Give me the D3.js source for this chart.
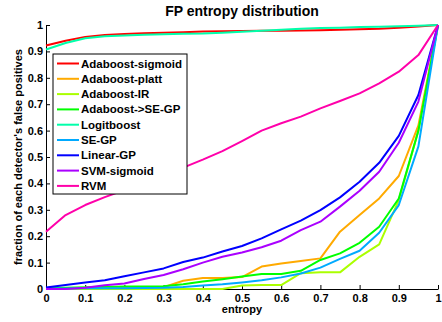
<!DOCTYPE html>
<html>
<head>
<meta charset="utf-8">
<script src="https://cdn.jsdelivr.net/npm/d3@7"></script>
<style>
    body { margin: 0; background: #fff; }
    svg text { font-family: "Liberation Sans", Arial, sans-serif; font-weight: bold; fill: #000; }
</style>
</head>
<body>
<svg id="chart" width="442" height="322"></svg>
<script>
// data
const entropy= [0, 0.05, 0.1, 0.15, 0.2, 0.25, 0.3, 0.35, 0.4, 0.45, 0.5,
    0.55, 0.6, 0.65, 0.7, 0.75, 0.8, 0.85, 0.9, 0.95, 1]

const series_names= ["Adaboost-sigmoid", "Adaboost-platt", "Adaboost-IR", "Adaboost->SE-GP",
    "Logitboost", "SE-GP", "Linear-GP", "SVM-sigmoid", "RVM"]
const series_colors= ["#ff0000", "#ffaa00", "#aaff00", "#00ff00",
    "#00ffaa", "#00aaff", "#0000ff", "#aa00ff", "#ff00aa"]

const adaboost_sigmoid= [0.922, 0.94, 0.955, 0.962, 0.966, 0.969, 0.971, 0.973, 0.975, 0.976, 0.977,
    0.978, 0.978, 0.979, 0.98, 0.982, 0.984, 0.986, 0.99, 0.994, 1]
const adaboost_platt= [0.003, 0.003, 0.004, 0.004, 0.005, 0.005, 0.007, 0.031, 0.042, 0.042, 0.045,
    0.085, 0.097, 0.106, 0.116, 0.217, 0.28, 0.343, 0.428, 0.62, 1]
const adaboost_ir= [0, 0, 0, 0, 0, 0, 0, 0, 0, 0, 0.013,
    0.015, 0.015, 0.06, 0.063, 0.063, 0.122, 0.169, 0.337, 0.6, 1]
const adaboost_se_gp= [0.004, 0.005, 0.007, 0.008, 0.009, 0.009, 0.01, 0.018, 0.028, 0.037, 0.047,
    0.057, 0.057, 0.069, 0.11, 0.135, 0.175, 0.236, 0.343, 0.6, 1]
const logitboost= [0.907, 0.932, 0.95, 0.957, 0.96, 0.963, 0.965, 0.967, 0.968, 0.971, 0.974,
    0.978, 0.982, 0.986, 0.989, 0.99, 0.992, 0.993, 0.995, 0.997, 1]
const se_gp= [0.002, 0.002, 0.003, 0.003, 0.003, 0.004, 0.005, 0.008, 0.013, 0.018, 0.025,
    0.033, 0.044, 0.059, 0.081, 0.114, 0.145, 0.213, 0.318, 0.54, 1]
const linear_gp= [0.006, 0.015, 0.025, 0.033, 0.048, 0.063, 0.078, 0.102, 0.119, 0.142, 0.163,
    0.192, 0.226, 0.259, 0.299, 0.347, 0.406, 0.478, 0.58, 0.735, 1]
const svm_sigmoid= [0, 0, 0.005, 0.014, 0.021, 0.038, 0.053, 0.075, 0.1, 0.122, 0.138,
    0.158, 0.183, 0.223, 0.255, 0.312, 0.372, 0.444, 0.554, 0.71, 1]
const rvm= [0.217, 0.28, 0.318, 0.348, 0.375, 0.405, 0.435, 0.46, 0.49, 0.522, 0.56,
    0.6, 0.628, 0.653, 0.684, 0.712, 0.741, 0.779, 0.823, 0.886, 1]

const series_values= [adaboost_sigmoid, adaboost_platt, adaboost_ir, adaboost_se_gp,
    logitboost, se_gp, linear_gp, svm_sigmoid, rvm]

const x_ticks= [0, 0.1, 0.2, 0.3, 0.4, 0.5, 0.6, 0.7, 0.8, 0.9, 1]
const y_ticks= [0, 0.1, 0.2, 0.3, 0.4, 0.5, 0.6, 0.7, 0.8, 0.9, 1]

// layout
const margin= {left: 46, right: 4, top: 25, bottom: 33}
const width= 442, height= 322

const svg= d3.select("#chart")

const x= d3.scaleLinear().domain([0, 1]).range([margin.left, width - margin.right])
const y= d3.scaleLinear().domain([0, 1]).range([height - margin.bottom, margin.top])

// axes (matlab style: inward ticks, no box)
const fmt= d => d === 0 || d === 1 ? String(d) : d3.format(".1f")(d)

svg.append("g")
    .attr("transform", `translate(0,${y(0)})`)
    .call(d3.axisBottom(x).tickValues(x_ticks).tickFormat(fmt).tickSizeInner(-4).tickSizeOuter(0).tickPadding(6))
    .call(g => g.selectAll("text").attr("font-size", 11).attr("dy", "0.6em"))

svg.append("g")
    .attr("transform", `translate(${x(0)},0)`)
    .call(d3.axisLeft(y).tickValues(y_ticks).tickFormat(fmt).tickSizeInner(-4).tickSizeOuter(0).tickPadding(3))
    .call(g => g.selectAll("text").attr("font-size", 11))

svg.selectAll(".domain, .tick line").attr("stroke", "#000").attr("stroke-width", 1)

// curves
const line= d3.line()
    .x((d, i) => x(entropy[i]))
    .y(d => y(d))

svg.append("g")
    .selectAll("path")
    .data(series_values)
    .join("path")
    .attr("d", line)
    .attr("fill", "none")
    .attr("stroke", (d, i) => series_colors[i])
    .attr("stroke-width", 2)
    .attr("stroke-linejoin", "round")

// title and labels
svg.append("text")
    .attr("x", (x(0) + x(1)) / 2).attr("y", 16)
    .attr("text-anchor", "middle").attr("font-size", 14)
    .text("FP entropy distribution")

svg.append("text")
    .attr("x", (x(0) + x(1)) / 2).attr("y", 313)
    .attr("text-anchor", "middle").attr("font-size", 11)
    .text("entropy")

svg.append("text")
    .attr("transform", `translate(22,${(y(0) + y(1)) / 2}) rotate(-90)`)
    .attr("text-anchor", "middle").attr("font-size", 11)
    .text("fraction of each detector's false positives")

// legend
const legend= svg.append("g").attr("transform", "translate(53,54)")
legend.append("rect")
    .attr("width", 134).attr("height", 140)
    .attr("fill", "#fff").attr("stroke", "#000").attr("stroke-width", 1)

const entry= legend.selectAll("g.entry")
    .data(series_names)
    .join("g")
    .attr("class", "entry")
    .attr("transform", (d, i) => `translate(0,${9.5 + i * 15.3})`)

entry.append("line")
    .attr("x1", 4).attr("x2", 26)
    .attr("stroke", (d, i) => series_colors[i])
    .attr("stroke-width", 2)

entry.append("text")
    .attr("x", 28).attr("dy", "0.35em").attr("font-size", 11.5)
    .text(d => d)
</script>
</body>
</html>
